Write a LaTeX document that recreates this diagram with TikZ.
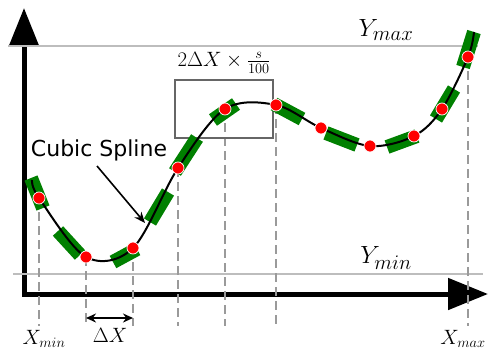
\documentclass[tikz,border=0pt]{standalone}
\usepackage{fontspec}
\usetikzlibrary{arrows.meta}
\newfontfamily\labelfont{DejaVu Sans}
\definecolor{segg}{HTML}{008000}
\definecolor{boxgray}{HTML}{666666}
\definecolor{dashgray}{HTML}{9A9A9A}
\definecolor{limgray}{HTML}{BDBDBD}
\tikzset{
  dot/.style={circle, fill=red, draw=white, line width=0.7pt, inner sep=0pt, minimum size=12pt},
  seg/.style={draw=segg, line width=14pt, line cap=butt},
  guide/.style={draw=dashgray, line width=2.7pt, dash pattern=on 9pt off 5pt},
  limline/.style={draw=limgray, line width=1.6pt},
  biglbl/.style={font=\fontsize{28}{32}\selectfont, inner sep=0pt},
  midlbl/.style={font=\fontsize{22}{26}\selectfont, inner sep=0pt},
  fraclbl/.style={font=\fontsize{20}{24}\selectfont, inner sep=0pt},
  axis/.style={line width=5pt, line join=miter, {Triangle[length=38pt,width=29pt]}-{Triangle[length=40pt,width=31pt]}},
}
\begin{document}
\begin{tikzpicture}[x=1pt,y=-1pt]
\useasboundingbox (0,0) rectangle (490,351);
% axes
\coordinate (ytip) at (24,8);
\coordinate (origin) at (24,294);
\coordinate (xtip) at (488,294);
\draw[axis] (ytip) -- (origin) -- (xtip);
% limit lines
\coordinate (ymaxL) at (8,46);
\coordinate (ymaxR) at (478,46);
\coordinate (yminL) at (13,274);
\coordinate (yminR) at (483,274);
\draw[limline] (ymaxL) -- (ymaxR);
\draw[limline] (yminL) -- (yminR);
\node[biglbl] (ymaxlbl) at (386,30) {$Y_{max}$};
\node[biglbl] (yminlbl) at (386,258) {$Y_{min}$};
% spline points
\coordinate (c0) at (32,180);
\coordinate (c1) at (39,198);
\coordinate (c2) at (86,257);
\coordinate (c3) at (133,248);
\coordinate (c4) at (178,168);
\coordinate (c5) at (225,109);
\coordinate (c6) at (276,105);
\coordinate (c7) at (321,128);
\coordinate (c8) at (370,146);
\coordinate (c9) at (414,136);
\coordinate (c10) at (442,109);
\coordinate (c11) at (468,57);
\coordinate (c12) at (474,32);
% dashed guides
\foreach \i/\x in {1/39,2/86,3/133,4/178,5/225,6/276,11/468}{
  \coordinate (g\i) at (\x,326);
  \draw[guide] (c\i) -- (g\i);
}
% window box
\coordinate (boxa) at (175,80);
\coordinate (boxb) at (273,138);
\draw[boxgray, line width=2.8pt] (boxa) rectangle (boxb);
\node[fraclbl] (winlbl) at (224,63) {$2\Delta X \times \frac{s}{100}$};
% green segments
\coordinate (s1a) at (31,178); \coordinate (s1b) at (43,208);
\coordinate (s2a) at (58,231); \coordinate (s2b) at (80,255);
\coordinate (s3a) at (113,262); \coordinate (s3b) at (137,249);
\coordinate (s4a) at (150,222); \coordinate (s4b) at (168,192);
\coordinate (s5a) at (175,172); \coordinate (s5b) at (197,138);
\coordinate (s6a) at (213,120); \coordinate (s6b) at (236,104);
\coordinate (s7a) at (274,104); \coordinate (s7b) at (302,119);
\coordinate (s8a) at (326,133); \coordinate (s8b) at (357,145);
\coordinate (s9a) at (387,147); \coordinate (s9b) at (417,136);
\coordinate (s10a) at (436,119); \coordinate (s10b) at (454,89);
\coordinate (s11a) at (463,67); \coordinate (s11b) at (474,32);
\foreach \i in {1,...,11}{\draw[seg] (s\i a) -- (s\i b);}
% spline
\draw[black, line width=2pt] plot[smooth, tension=0.55] coordinates {(c0) (c1) (c2) (c3) (c4) (c5) (c6) (c7) (c8) (c9) (c10) (c11) (c12)};
% dots
\foreach \i in {1,...,11}{\node[dot] (d\i) at (c\i) {};}
% cubic spline label
\node[font=\labelfont\fontsize{22}{26}\selectfont, inner sep=0pt] (cslbl) at (99,150) {Cubic Spline};
\coordinate (csa) at (97,166);
\coordinate (csb) at (145,223);
\draw[line width=1.6pt, -{Stealth[length=11pt,width=9pt]}] (csa) -- (csb);
% delta x
\coordinate (dxa) at (86,318);
\coordinate (dxb) at (133,318);
\draw[line width=1.6pt, {Stealth[length=10pt,width=9pt]}-{Stealth[length=10pt,width=9pt]}] (dxa) -- (dxb);
\node[midlbl] (dxlbl) at (110,335) {$\Delta X$};
\node[midlbl] (xminlbl) at (44,339) {$X_{min}$};
\node[midlbl] (xmaxlbl) at (463,339) {$X_{max}$};
\end{tikzpicture}
\end{document}
